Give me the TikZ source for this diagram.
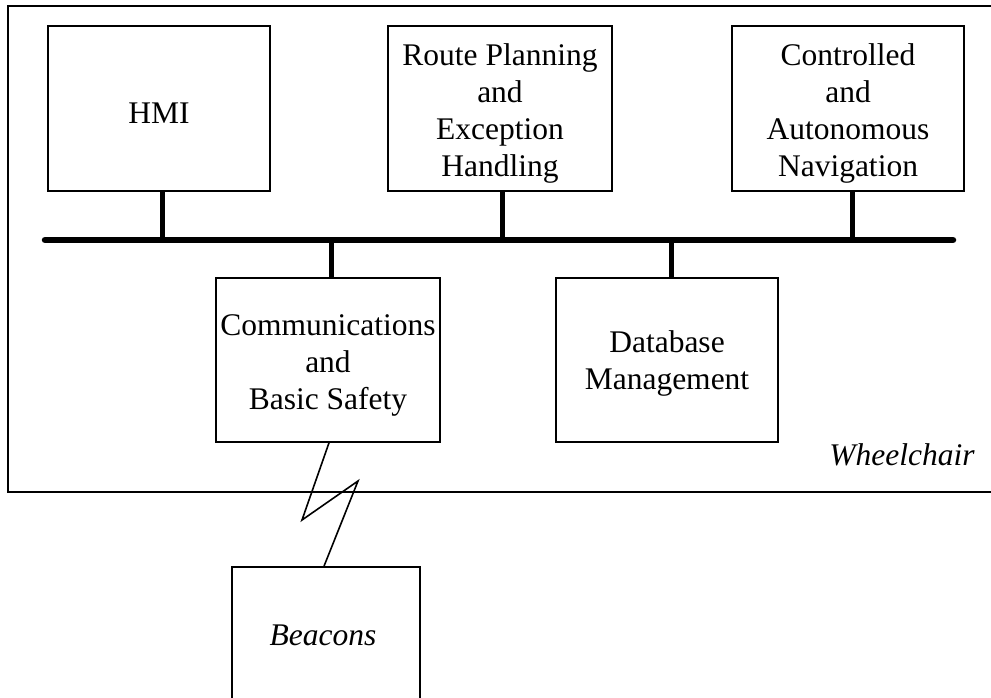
\documentclass[tikz,border=0pt]{standalone}
\usepackage{fontspec}
\setmainfont{Liberation Serif}
\begin{document}
\begin{tikzpicture}[x=1pt,y=-1pt,
  module/.style={draw, line width=1.6pt, inner sep=0pt},
  modtext/.style={align=center, inner sep=0pt, yshift=-5pt,
    font=\fontsize{31.5}{37}\selectfont},
  bus/.style={line width=6.5pt, line cap=round},
  stub/.style={line width=5pt},
  link/.style={line width=1.6pt, line join=miter},
  caption/.style={font=\fontsize{31.5}{37}\selectfont\itshape, inner sep=0pt}]
\clip (0,0) rectangle (991,697);
\fill[white] (0,0) rectangle (991,697);

% wheelchair enclosure (open to the right)
\draw[line width=1.6pt] (1000,6) -- (8,6) -- (8,492) -- (1000,492);
\node[caption] (wheelchair) at (902,455) {Wheelchair};

% modules on the wheelchair
\node[module, minimum width=222pt, minimum height=165pt] (hmi) at (159,108.5) {};
\node[module, minimum width=224pt, minimum height=165pt] (route) at (500,108.5) {};
\node[module, minimum width=232pt, minimum height=165pt] (nav) at (848,108.5) {};
\node[module, minimum width=224pt, minimum height=164pt] (comm) at (328,360) {};
\node[module, minimum width=222pt, minimum height=164pt] (db) at (667,360) {};

\node[modtext] (hmiT) at (hmi.center) {HMI};
\node[modtext] (routeT) at (route.center)
  {Route Planning\\and\\Exception\\Handling};
\node[modtext] (navT) at (nav.center)
  {Controlled\\and\\Autonomous\\Navigation};
\node[modtext] (commT) at (comm.center)
  {Communications\\and\\Basic Safety};
\node[modtext, yshift=2pt] (dbT) at (db.center) {Database\\Management};

% shared bus
\coordinate (busL) at (45,240);
\coordinate (busR) at (953,240);
\draw[bus] (busL) -- (busR);

% bus taps
\draw[stub] ([xshift=3pt]hmi.south) -- ([xshift=3pt]hmi.south |- busL);
\draw[stub] ([xshift=2pt]route.south) -- ([xshift=2pt]route.south |- busL);
\draw[stub] ([xshift=4pt]nav.south) -- ([xshift=4pt]nav.south |- busL);
\draw[stub] ([xshift=3pt]comm.north) -- ([xshift=3pt]comm.north |- busL);
\draw[stub] ([xshift=4pt]db.north) -- ([xshift=4pt]db.north |- busL);

% beacons (box runs past the lower edge)
\node[draw, line width=1.6pt, minimum width=188pt, minimum height=200pt,
  inner sep=0pt] (beaconbox) at (326,667) {};
\node[caption] (beacons) at (323,635) {Beacons};

% wireless link
\draw[link] ([xshift=1pt]comm.south) -- (302,520) -- (358,481)
  -- ([xshift=-2pt]beaconbox.north);
\end{tikzpicture}
\end{document}
